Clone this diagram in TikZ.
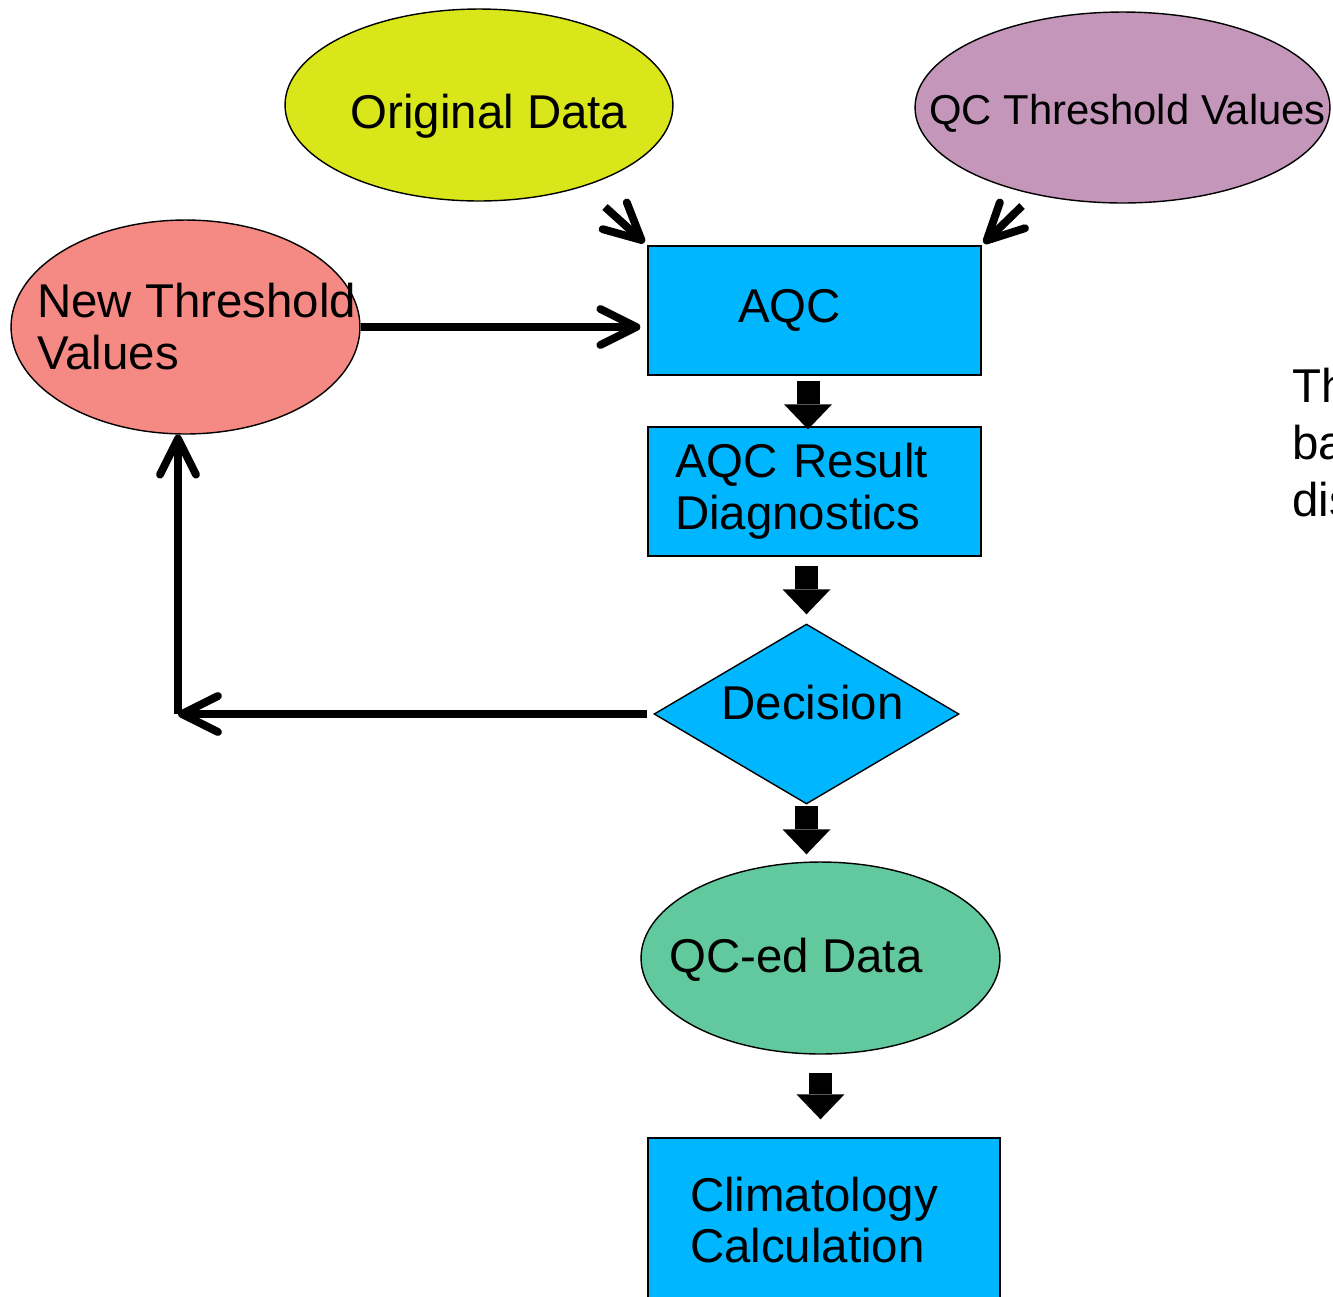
\documentclass[tikz,border=0pt]{standalone}
\usepackage{fontspec}
\setmainfont{Liberation Sans}
\usetikzlibrary{positioning,arrows.meta,shapes.geometric,calc}
\definecolor{cOrig}{RGB}{216,230,26}
\definecolor{cThr}{RGB}{195,150,186}
\definecolor{cNew}{RGB}{245,137,132}
\definecolor{cBox}{RGB}{0,183,255}
\definecolor{cDone}{RGB}{97,201,157}
\newcommand\chartfont{\fontsize{27pt}{29.5pt}\selectfont}

\begin{document}
\begin{tikzpicture}[
  x=0.02cm, y=-0.02cm,
  font=\chartfont,
  box/.style={draw, line width=0.8pt, fill=cBox, inner sep=0pt, align=left},
  oval/.style={ellipse, draw, line width=0.8pt, inner sep=0pt},
  txt/.style={inner sep=0pt},
  openarr/.style={line width=4.5pt, -{Straight Barb[length=0.72cm, width=0.72cm, round]}},
  blkarr/.style={line width=0.46cm, -{Triangle[length=0.5cm, width=0.96cm, line width=0pt]}}
]
\useasboundingbox (0,0) rectangle (1333,1296);
\clip (0,0) rectangle (1333,1296);

% ---------------- INPUTS ----------------
\node (orig) at (479,105) [oval, fill=cOrig, minimum width=7.76cm, minimum height=3.84cm] {};
\node (origtxt) at (489,116) [txt] {Original Data};
\node (qcthr) at (1122.5,107.5) [oval, fill=cThr, minimum width=8.3cm, minimum height=3.82cm] {};
\node (qcthrtxt) at (1127.5,113) [txt, font=\fontsize{23.8pt}{26pt}\selectfont] {QC Threshold Values};
\node (newthr) at (185.5,327) [oval, fill=cNew, minimum width=6.98cm, minimum height=4.28cm] {};
\node (newthrtxt) at (37,283) [txt, anchor=north west, align=left] {New Threshold\\Values};

% ---------------- MAIN CHAIN ----------------
\node (aqc) at (814.5,310.5) [box, minimum width=6.66cm, minimum height=2.58cm, text width=3.06cm] {AQC};
\node (diag) at (814.5,491.5) [box, minimum width=6.66cm, minimum height=2.58cm, text width=5.58cm] {AQC Result\\Diagnostics};
\node (dec) at (806.5,714) [diamond, draw, line width=0.8pt, fill=cBox, inner sep=0pt, minimum width=6.1cm, minimum height=3.6cm] {};
\node (dectxt) at (812.5,703) [txt] {Decision};
\node (qced) at (820.5,958) [oval, fill=cDone, minimum width=7.18cm, minimum height=3.84cm] {};
\node (qcedtxt) at (796,960) [txt] {QC-ed Data};
\node (clim) at (824,1220) [box, minimum width=7.04cm, minimum height=3.28cm, text width=5.36cm] {Climatology\\Calculation};

% side note, cut off at the page edge
\node (sidetxt) at (1292,368) [txt, anchor=north west, align=left, font=\fontsize{27pt}{32.3pt}\selectfont] {Th\\ba\\dis};

% ---------------- CONNECTORS ----------------
\coordinate (origtail) at (605,207);
\coordinate (thrtail) at (1022,206);
\coordinate (loopc) at (178,714);
\draw[openarr, shorten >=0.08cm] (origtail) -- (aqc.north west);
\draw[openarr, shorten >=0.06cm] (thrtail) -- (aqc.north east);
\draw[openarr, shorten >=0.14cm] (newthr.east) -- (newthr.east -| aqc.west);
\draw[openarr, shorten <=0.12cm] (dec.west) -- (loopc);
\draw[openarr] (loopc) -- (loopc |- newthr.south);

\draw[blkarr, shorten <=0.1cm, shorten >=-0.06cm] ([xshift=-0.13cm]aqc.south) -- ([xshift=-0.13cm]diag.north);
\draw[blkarr, shorten <=0.18cm, shorten >=0.18cm] (diag.south -| dec.north) -- (dec.north);
\draw[blkarr, shorten <=0.02cm, shorten >=0.14cm] (dec.south) -- (dec.south |- qced.north);
\draw[blkarr, shorten <=0.36cm, shorten >=0.36cm] (qced.south) -- (qced.south |- clim.north);

\end{tikzpicture}
\end{document}
